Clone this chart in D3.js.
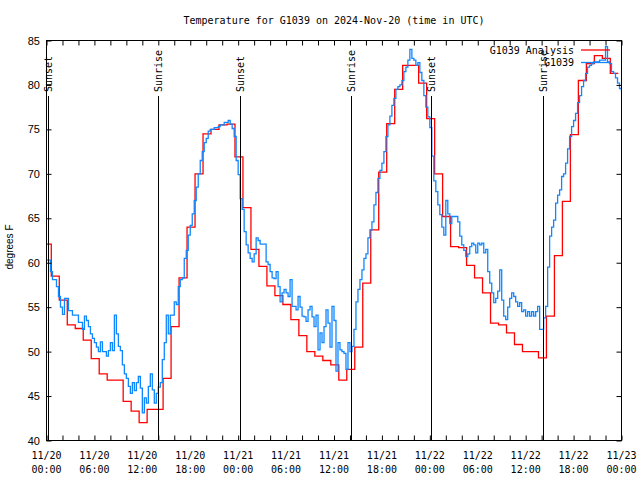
<!DOCTYPE html>
<html><head><meta charset="utf-8">
<script src="https://cdn.jsdelivr.net/npm/d3@7"></script>
<style>body{margin:0;background:#fff}svg{display:block}</style>
</head><body><svg id="c" width="640" height="480"></svg>
<script>
const chartTitle = "Temperature for G1039 on 2024-Nov-20 (time in UTC)";
const yAxisLabel = "degrees F";
const seriesNames = ["G1039 Analysis", "G1039"];
const seriesColors = ["#ff0000", "#0f87ff"];

// Observations (G1039), every 0.25 h from 11/20 00:00 UTC
const obsStepHours = 0.25;
const obsValues = [
 60.3,60.3,59.0,58.1,58.1,57.3,56.2,55.0,54.2,56.0,56.0,54.6,54.6,54.1,54.1,54.1,53.3,53.3,52.5,54.0,53.5,52.8,52.0,51.5,
 51.0,50.5,50.0,51.1,50.0,50.0,49.5,50.1,51.0,50.1,54.1,52.0,50.6,50.1,48.5,47.5,47.0,46.1,45.3,46.5,45.6,46.5,47.2,45.9,
 43.1,44.8,44.2,46.1,47.5,45.7,44.2,45.3,46.0,46.5,49.1,51.0,54.1,52.0,54.1,54.1,55.6,55.3,57.3,58.1,58.3,60.5,61.4,63.1,
 64.2,65.5,67.0,68.5,70.0,71.5,72.5,73.5,74.0,74.8,75.0,75.0,75.2,75.2,75.3,75.5,75.5,75.8,75.8,76.0,75.6,75.1,74.2,71.5,
 69.9,67.2,66.0,63.5,62.0,61.1,60.5,60.1,61.0,62.8,62.5,62.1,62.1,62.1,60.1,59.8,59.0,58.3,58.2,59.0,57.3,55.6,56.6,57.0,
 56.6,56.2,58.1,55.1,55.1,54.7,56.2,55.0,54.0,53.9,53.4,54.7,55.1,53.9,52.8,54.1,50.2,52.1,51.0,52.8,54.7,53.2,50.5,55.1,
 53.5,47.8,51.0,50.2,50.0,49.8,48.0,51.0,50.0,50.6,52.5,55.6,57.0,58.1,59.2,60.5,61.0,62.8,63.7,64.6,66.5,67.9,69.5,70.4,
 71.2,72.5,74.2,75.5,76.5,77.7,78.5,79.5,79.8,80.0,80.5,81.5,82.0,82.8,84.0,83.0,82.8,82.2,82.5,81.4,80.5,78.8,77.5,76.4,
 75.2,72.0,69.2,68.0,66.5,65.4,64.0,63.1,67.0,65.5,64.4,65.2,65.2,65.2,64.6,63.0,62.0,61.4,60.7,61.0,61.8,62.2,62.0,61.1,
 62.2,62.0,62.2,61.1,61.5,59.0,57.7,56.6,55.5,56.0,56.8,59.2,55.8,54.0,53.6,55.0,56.0,56.6,56.2,55.6,55.1,55.5,54.5,54.7,
 54.0,54.5,54.0,54.5,54.0,54.5,55.1,52.5,52.5,53.8,55.1,59.5,63.0,64.0,64.8,66.7,67.6,68.2,69.7,70.0,71.2,72.8,74.2,75.3,
 76.0,76.8,78.0,78.8,79.8,80.5,81.3,82.0,82.2,82.4,82.6,82.6,82.6,82.8,82.8,82.8,84.3,82.6,82.4,81.5,81.3,80.8,80.2,79.6,
 79.2
];

// Analysis (G1039 Analysis), hourly steps starting at -0.4 h
const analysisStartHour = -0.4;
const analysisStepHours = 1;
const analysisValues = [
 62.1,58.5,55.8,53.0,52.6,51.3,49.2,47.5,46.8,46.8,44.4,43.3,42.0,43.5,43.5,47.0,52.8,58.3,64.0,70.0,
 74.5,75.0,75.5,75.6,71.9,66.2,61.5,59.6,57.4,56.3,55.3,53.6,51.8,50.0,49.5,49.0,48.5,46.8,48.0,50.5,
 57.7,63.7,70.2,75.65,79.5,82.2,82.2,80.2,76.2,70.0,65.2,61.8,61.7,59.7,58.3,56.6,53.2,53.0,52.1,50.8,
 50.0,50.0,49.3,54.0,60.8,66.9,74.4,80.5,82.4,83.3,83.0,81.3,81.3
];

const sunLabels = ["Sunset","Sunrise","Sunset","Sunrise","Sunset","Sunrise"];
const sunHours = [0.15, 14.0, 24.25, 38.1, 48.15, 62.12];

const yTickValues = [40,45,50,55,60,65,70,75,80,85];
const xTickHours = [0,6,12,18,24,30,36,42,48,54,60,66,72];
const xTickDates = ["11/20","11/20","11/20","11/20","11/21","11/21","11/21","11/21","11/22","11/22","11/22","11/22","11/23"];
const xTickTimes = ["00:00","06:00","12:00","18:00","00:00","06:00","12:00","18:00","00:00","06:00","12:00","18:00","00:00"];

const mono = "'DejaVu Sans Mono', monospace";
const sans = "'Liberation Sans', Arial, sans-serif";

const svg = d3.select("#c");
const L = 46.5, R = 621.5, T = 40.5, B = 440.5;
const x = d3.scaleLinear().domain([0, 72]).range([L, R]);
const y = d3.scaleLinear().domain([40, 85]).range([B, T]);

svg.append("rect").attr("width",640).attr("height",480).attr("fill","#fff");

svg.append("text").attr("x", (L+R)/2).attr("y", 24).attr("text-anchor","middle")
  .attr("font-family", mono).attr("font-size", 10).text(chartTitle);

svg.append("clipPath").attr("id","clip").append("rect")
  .attr("x", L).attr("y", T).attr("width", R-L).attr("height", B-T);

const obsData = obsValues.map((v,i)=>({h:i*obsStepHours, v}));
const anaData = analysisValues.map((v,i)=>({h:analysisStartHour + i*analysisStepHours, v}));
const line = d3.line().x(d=>x(d.h)).y(d=>y(d.v)).curve(d3.curveStepAfter);
const g = svg.append("g").attr("clip-path","url(#clip)");
g.append("path").datum(anaData).attr("d", line).attr("fill","none")
  .attr("stroke", seriesColors[0]).attr("stroke-width", 1.3);
g.append("path").datum(obsData).attr("d", line).attr("fill","none")
  .attr("stroke", seriesColors[1]).attr("stroke-width", 1.3);

sunHours.forEach((h,i)=>{
  const xx = Math.round(x(h)) + 0.5;
  svg.append("line").attr("x1",xx).attr("x2",xx).attr("y1",96).attr("y2",B)
    .attr("stroke","#000").attr("stroke-width",1);
  svg.append("text").attr("transform",`translate(${xx+3.5},92) rotate(-90)`)
    .attr("text-anchor","start").attr("font-family",mono).attr("font-size",10)
    .text(sunLabels[i]);
});

const xMinor = d3.range(0, 73, 2);
svg.append("g").attr("transform",`translate(0,${B})`)
  .call(d3.axisTop(x).tickValues(xMinor).tickSize(5).tickFormat(""))
  .call(a=>a.select(".domain").remove());
svg.append("g").attr("transform",`translate(0,${T})`)
  .call(d3.axisBottom(x).tickValues(xMinor).tickSize(5).tickFormat(""))
  .call(a=>a.select(".domain").remove());
svg.append("g").attr("transform",`translate(${L},0)`)
  .call(d3.axisRight(y).tickValues(yTickValues).tickSize(5).tickFormat(""))
  .call(a=>a.select(".domain").remove());
svg.append("g").attr("transform",`translate(${R},0)`)
  .call(d3.axisLeft(y).tickValues(yTickValues).tickSize(5).tickFormat(""))
  .call(a=>a.select(".domain").remove());
svg.selectAll(".tick line").attr("stroke","#000");

svg.append("rect").attr("x",L).attr("y",T).attr("width",R-L).attr("height",B-T)
  .attr("fill","none").attr("stroke","#000").attr("stroke-width",1);

svg.append("g").selectAll("text").data(yTickValues).join("text")
  .attr("x", 40).attr("y", d=>y(d)+4).attr("text-anchor","end")
  .attr("font-family", sans).attr("font-size", 11).text(d=>d);

const xl = svg.append("g").selectAll("text").data(xTickHours).join("text")
  .attr("text-anchor","middle").attr("font-family",mono).attr("font-size",10);
xl.append("tspan").attr("x", d=>x(d)).attr("y", 459).text((d,i)=>xTickDates[i]);
xl.append("tspan").attr("x", d=>x(d)).attr("y", 473).text((d,i)=>xTickTimes[i]);

svg.append("text").attr("transform","translate(13,247) rotate(-90)")
  .attr("text-anchor","middle").attr("font-family",sans).attr("font-size",10)
  .text(yAxisLabel);

seriesNames.forEach((n,i)=>{
  const ly = 50 + i*12.5;
  svg.append("text").attr("x",574).attr("y",ly+3.5).attr("text-anchor","end")
    .attr("font-family",mono).attr("font-size",10).text(n);
  svg.append("line").attr("x1",581).attr("x2",610).attr("y1",ly).attr("y2",ly)
    .attr("stroke",seriesColors[i]).attr("stroke-width",1.3);
});
</script></body></html>
